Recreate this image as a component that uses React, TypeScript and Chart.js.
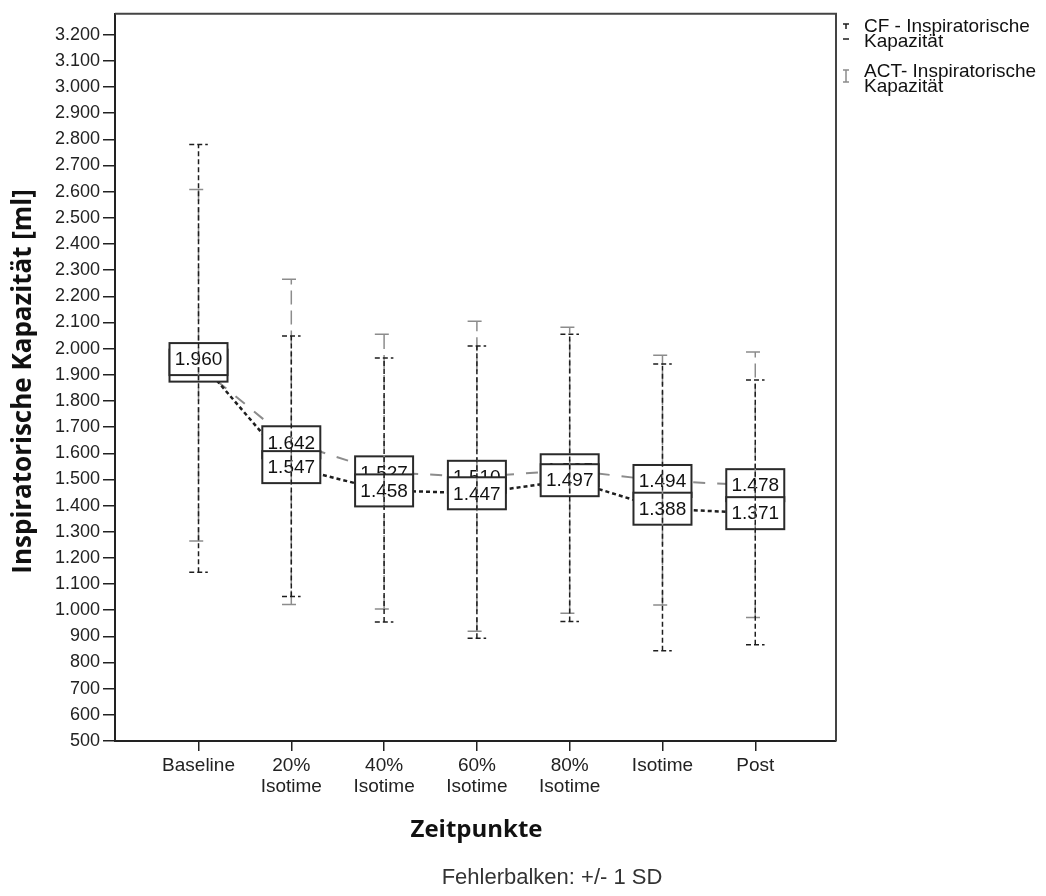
import React, { useEffect, useRef } from "react";
import { Chart, registerables } from "chart.js";

Chart.register(...registerables);

// ---------- data ----------
const categories: string[][] = [
  ["Baseline"],
  ["20%", "Isotime"],
  ["40%", "Isotime"],
  ["60%", "Isotime"],
  ["80%", "Isotime"],
  ["Isotime"],
  ["Post"],
];

const cfMean = [1960, 1547, 1458, 1447, 1497, 1388, 1371];
const cfUpper = [2780, 2048, 1964, 2010, 2055, 1941, 1880];
const cfLower = [1145, 1052, 955, 893, 957, 845, 868];

const actMean = [1935, 1642, 1527, 1510, 1535, 1494, 1478];
const actUpper = [2608, 2265, 2055, 2105, 2082, 1975, 1987];
const actLower = [1265, 1022, 1005, 920, 988, 1020, 972];

const yTickValues = [
  500, 600, 700, 800, 900, 1000, 1100, 1200, 1300, 1400, 1500, 1600, 1700, 1800,
  1900, 2000, 2100, 2200, 2300, 2400, 2500, 2600, 2700, 2800, 2900, 3000, 3100, 3200,
];

const legendLabels = [
  ["CF - Inspiratorische", "Kapazität"],
  ["ACT- Inspiratorische", "Kapazität"],
];
const yTitle = "Inspiratorische Kapazität [ml]";
const xTitle = "Zeitpunkte";
const footer = "Fehlerbalken: +/- 1 SD";

// ---------- helpers ----------
const fmt = (v: number) =>
  v >= 1000 ? `${Math.floor(v / 1000)}.${String(Math.round(v) % 1000).padStart(3, "0")}` : String(v);

const CAP = 0.1;
function errorBarData(lower: number[], upper: number[]) {
  const pts: { x: number; y: number | null }[] = [];
  lower.forEach((lo, i) => {
    const hi = upper[i];
    pts.push({ x: i, y: lo }, { x: i, y: hi }, { x: i, y: null });
    pts.push({ x: i - CAP, y: hi }, { x: i + CAP, y: hi }, { x: i, y: null });
    pts.push({ x: i - CAP, y: lo }, { x: i + CAP, y: lo }, { x: i, y: null });
  });
  return pts;
}

const meanData = (m: number[]) => m.map((v, i) => ({ x: i, y: v }));

const BLACK = "#1e1e1e";
const GRAY = "#8c8c8c";

const labelPlugin = {
  id: "meanLabels",
  afterDatasetDraw(chart: any, args: any) {
    if (args.index !== 2) return;
    const { ctx } = chart;
    const x = chart.scales.x;
    const y = chart.scales.y;
    ctx.save();
    const draw = (i: number, v: number) => {
      const px = x.getPixelForValue(i);
      const py = y.getPixelForValue(v);
      const w = 58;
      const h = 32;
      ctx.fillStyle = "#fff";
      ctx.fillRect(px - w / 2, py - h / 2, w, h);
      ctx.strokeStyle = "#2a2a2a";
      ctx.lineWidth = 2;
      ctx.strokeRect(px - w / 2, py - h / 2, w, h);
      ctx.fillStyle = "#111";
      ctx.font = '19px "Liberation Sans"';
      ctx.textAlign = "center";
      ctx.textBaseline = "middle";
      ctx.fillText(fmt(v), px, py + 1);
    };
    for (let i = 0; i < categories.length; i++) {
      draw(i, actMean[i]);
      draw(i, cfMean[i]);
    }
    ctx.restore();
  },
};

const decorPlugin = {
  id: "decor",
  afterDraw(chart: any) {
    const { ctx, chartArea: a } = chart;
    ctx.save();
    // frame top/right
    ctx.strokeStyle = "#444";
    ctx.lineWidth = 2;
    ctx.beginPath();
    ctx.moveTo(a.left, a.top);
    ctx.lineTo(a.right, a.top);
    ctx.lineTo(a.right, a.bottom);
    ctx.stroke();

    // y title
    ctx.fillStyle = "#111";
    ctx.font = 'bold 26px "Open Sans"';
    ctx.textAlign = "center";
    ctx.textBaseline = "middle";
    ctx.save();
    ctx.translate(24, (a.top + a.bottom) / 2 + 4);
    ctx.rotate(-Math.PI / 2);
    ctx.fillText(yTitle, 0, 0);
    ctx.restore();

    // x title
    ctx.font = 'bold 24px "Open Sans"';
    ctx.fillText(xTitle, (a.left + a.right) / 2 + 1, 830);

    // footer
    ctx.font = '22px "Liberation Sans"';
    ctx.fillStyle = "#333";
    ctx.fillText(footer, 552, 878);

    // legend
    const lx = 846;
    // CF symbol
    ctx.strokeStyle = BLACK;
    ctx.lineWidth = 1.5;
    ctx.beginPath();
    ctx.moveTo(lx - 3, 24);
    ctx.lineTo(lx + 3, 24);
    ctx.moveTo(lx, 24);
    ctx.lineTo(lx, 29);
    ctx.moveTo(lx - 3, 39);
    ctx.lineTo(lx + 3, 39);
    ctx.stroke();
    // ACT symbol
    ctx.strokeStyle = GRAY;
    ctx.beginPath();
    ctx.moveTo(lx - 3, 70);
    ctx.lineTo(lx + 3, 70);
    ctx.moveTo(lx, 70);
    ctx.lineTo(lx, 82);
    ctx.moveTo(lx - 3, 82);
    ctx.lineTo(lx + 3, 82);
    ctx.stroke();

    ctx.fillStyle = "#111";
    ctx.font = '19px "Liberation Sans"';
    ctx.textAlign = "left";
    ctx.textBaseline = "middle";
    const ys = [[27, 42], [72, 87]];
    legendLabels.forEach((lines, k) => {
      lines.forEach((t, j) => ctx.fillText(t, 864, ys[k][j]));
    });
    ctx.restore();
  },
};

export default function App() {
  const ref = useRef<HTMLCanvasElement | null>(null);

  useEffect(() => {
    if (!ref.current) return;
    const chart = new Chart(ref.current, {
      type: "line",
      data: {
        datasets: [
          {
            label: "CF SD",
            data: errorBarData(cfLower, cfUpper),
            borderColor: BLACK,
            borderWidth: 1.5,
            borderDash: [5, 3],
            pointRadius: 0,
            spanGaps: false,
            fill: false,
            order: 0,
          },
          {
            label: "ACT SD",
            data: errorBarData(actLower, actUpper),
            borderColor: GRAY,
            borderWidth: 1.5,
            borderDash: [14, 6],
            pointRadius: 0,
            spanGaps: false,
            fill: false,
            order: 1,
          },
          {
            label: "CF mean",
            data: meanData(cfMean),
            borderColor: BLACK,
            borderWidth: 2.5,
            borderDash: [4, 3],
            pointRadius: 0,
            fill: false,
            order: 2,
          },
          {
            label: "ACT mean",
            data: meanData(actMean),
            borderColor: GRAY,
            borderWidth: 2,
            borderDash: [12, 12],
            pointRadius: 0,
            fill: false,
            order: 3,
          },
        ] as any,
      },
      options: {
        responsive: false,
        maintainAspectRatio: false,
        devicePixelRatio: 1,
        animation: false,
        events: [],
        layout: { padding: { top: 12, right: 210, bottom: 0, left: 0 } },
        plugins: { legend: { display: false }, tooltip: { enabled: false } },
        scales: {
          x: {
            type: "linear",
            min: -0.9,
            max: 6.87,
            afterBuildTicks: (s: any) => {
              s.ticks = categories.map((_, i) => ({ value: i }));
            },
            afterFit: (s: any) => {
              s.height = 155;
            },
            ticks: {
              callback: (v: any) => categories[Math.round(Number(v))],
              font: { family: "Liberation Sans", size: 19, lineHeight: 1.1 },
              color: "#222",
              padding: 4,
              maxRotation: 0,
              autoSkip: false,
            },
            grid: {
              drawOnChartArea: false,
              drawTicks: true,
              tickLength: 10,
              color: "#222",
              lineWidth: 1.5,
            },
            border: { display: true, color: "#222", width: 2 },
          },
          y: {
            type: "linear",
            min: 500,
            max: 3280,
            afterBuildTicks: (s: any) => {
              s.ticks = yTickValues.map((v) => ({ value: v }));
            },
            afterFit: (s: any) => {
              s.width = 115;
            },
            ticks: {
              callback: (v: any) => fmt(Number(v)),
              font: { family: "Liberation Sans", size: 18 },
              color: "#222",
              padding: 3,
              autoSkip: false,
            },
            grid: {
              drawOnChartArea: false,
              drawTicks: true,
              tickLength: 12,
              color: "#222",
              lineWidth: 1.5,
            },
            border: { display: true, color: "#222", width: 2 },
          },
        },
      } as any,
      plugins: [labelPlugin, decorPlugin],
    });
    return () => chart.destroy();
  }, []);

  return (
    <div style={{ position: "fixed", left: 0, top: 0, width: 1046, height: 896, background: "#fff" }}>
      <canvas ref={ref} width={1046} height={896} style={{ display: "block" }} />
    </div>
  );
}
